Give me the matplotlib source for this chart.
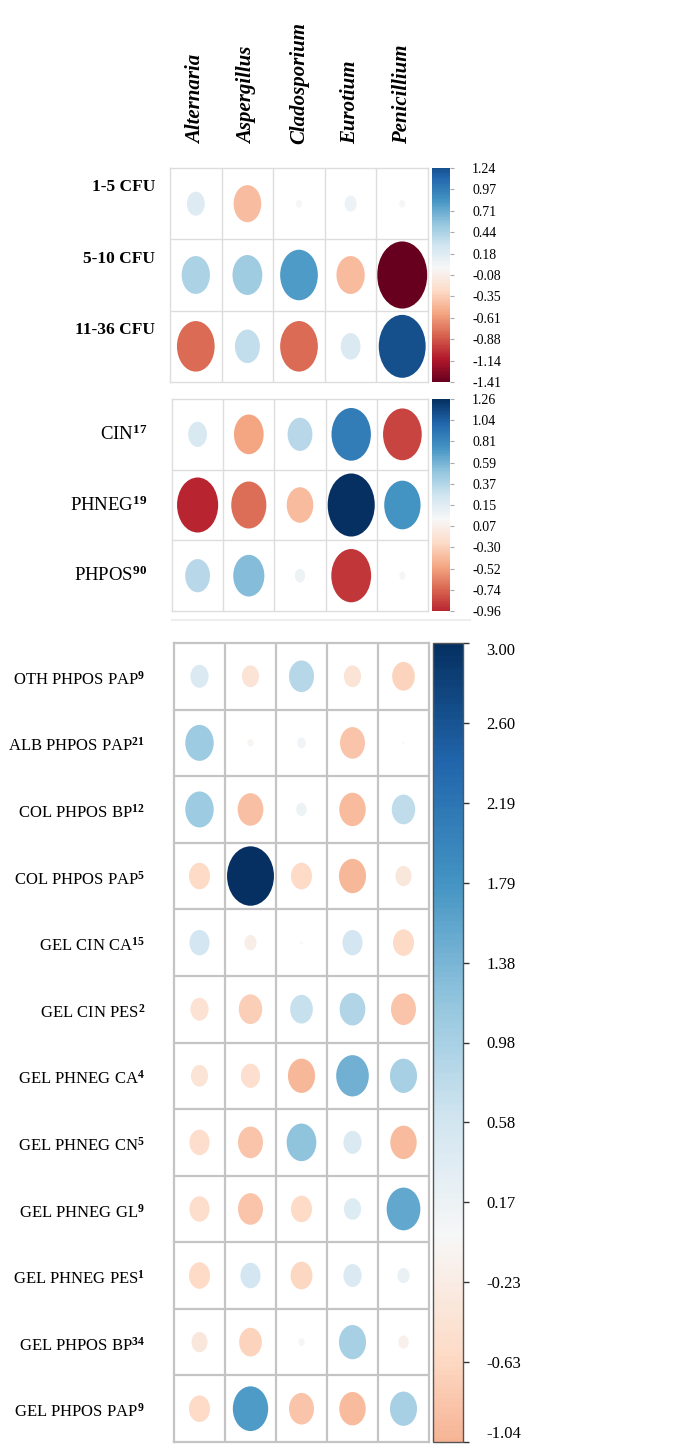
import numpy as np
import matplotlib.pyplot as plt
from matplotlib.patches import Ellipse
from matplotlib.colors import Normalize
from matplotlib.cm import ScalarMappable
from matplotlib.lines import Line2D
import matplotlib.transforms as mtrans

plt.rcParams['font.family'] = ['Liberation Serif', 'DejaVu Serif']
plt.rcParams['mathtext.fontset'] = 'custom'
plt.rcParams['mathtext.rm'] = 'Liberation Serif'
plt.rcParams['mathtext.bf'] = 'Liberation Serif:bold'
plt.rcParams['mathtext.it'] = 'Liberation Serif:italic'

genera = ['Alternaria', 'Aspergillus', 'Cladosporium', 'Eurotium', 'Penicillium']

# panel 1: colony counts
cfu_rows = ['1-5 CFU', '5-10 CFU', '11-36 CFU']
cfu_vals = [[0.18, -0.43, 0.02, 0.08, 0.02],
            [0.45, 0.50, 0.80, -0.45, -1.41],
            [-0.80, 0.35, -0.80, 0.22, 1.24]]
cfu_ticks = ['1.24', '0.97', '0.71', '0.44', '0.18', '-0.08',
             '-0.35', '-0.61', '-0.88', '-1.14', '-1.41']

# panel 2: pH / cinnamic
ph_rows = [r'CIN$^{\mathbf{17}}$', r'PHNEG$^{\mathbf{19}}$', r'PHPOS$^{\mathbf{90}}$']
ph_vals = [[0.20, -0.50, 0.35, 0.88, -0.85],
           [-0.96, -0.70, -0.40, 1.26, 0.75],
           [0.35, 0.55, 0.06, -0.90, 0.02]]
ph_ticks = ['1.26', '1.04', '0.81', '0.59', '0.37', '0.15',
            '0.07', '-0.30', '-0.52', '-0.74', '-0.96']

# panel 3: binder / treatment groups
grp_rows = [r'OTH PHPOS PAP$^{\mathbf{9}}$', r'ALB PHPOS PAP$^{\mathbf{21}}$',
            r'COL PHPOS BP$^{\mathbf{12}}$', r'COL PHPOS PAP$^{\mathbf{5}}$',
            r'GEL CIN CA$^{\mathbf{15}}$', r'GEL CIN PES$^{\mathbf{2}}$',
            r'GEL PHNEG CA$^{\mathbf{4}}$', r'GEL PHNEG CN$^{\mathbf{5}}$',
            r'GEL PHNEG GL$^{\mathbf{9}}$', r'GEL PHNEG PES$^{\mathbf{1}}$',
            r'GEL PHPOS BP$^{\mathbf{34}}$', r'GEL PHPOS PAP$^{\mathbf{9}}$']
grp_vals = [[0.45, -0.40, 0.85, -0.40, -0.70],
            [1.10, -0.05, 0.10, -0.85, 0.005],
            [1.10, -0.90, 0.15, -0.95, 0.75],
            [-0.60, 3.00, -0.60, -1.00, -0.35],
            [0.55, -0.20, 0.01, 0.55, -0.60],
            [-0.45, -0.75, 0.70, 0.90, -0.85],
            [-0.40, -0.50, -1.00, 1.45, 1.00],
            [-0.55, -0.85, 1.20, 0.45, -0.95],
            [-0.55, -0.85, -0.60, 0.40, 1.55],
            [-0.60, 0.55, -0.65, 0.45, 0.20],
            [-0.35, -0.70, 0.05, 1.00, -0.15],
            [-0.60, 1.70, -0.85, -0.95, 1.00]]
grp_ticks = ['3.00', '2.60', '2.19', '1.79', '1.38', '0.98',
             '0.58', '0.17', '-0.23', '-0.63', '-1.04']

W, H = 695, 1448
fig = plt.figure(figsize=(W / 100, H / 100), dpi=100)


def rect(x0, y0, x1, y1):
    return [x0 / W, 1 - y1 / H, (x1 - x0) / W, (y1 - y0) / H]


def panel(box, cbox, vals, rows, vmax, ticks, lab_off, lab_fs, lab_w, lab_dy,
          grid_c, grid_lw, tick_fs, size=0.92, heavy=False):
    vals = np.array(vals)
    nr, nc = vals.shape
    norm = Normalize(-vmax, vmax)
    cmap = plt.get_cmap('RdBu')
    ax = fig.add_axes(rect(*box))
    for i in range(nr):
        for j in range(nc):
            v = vals[i, j]
            d = size * np.sqrt(abs(v) / vmax)
            ax.add_patch(Ellipse((j + 0.5, i + 0.5), d, d * 0.97, color=cmap(norm(v)), lw=0))
    ax.vlines(np.arange(1, nc), 0, nr, color=grid_c, lw=grid_lw)
    ax.hlines(np.arange(1, nr), 0, nc, color=grid_c, lw=grid_lw)
    ax.set_xlim(0, nc)
    ax.set_ylim(nr, 0)
    ax.set_xticks([])
    ax.set_yticks([])
    for s in ax.spines.values():
        s.set_color(grid_c)
        s.set_linewidth(grid_lw)
    tr = mtrans.blended_transform_factory(ax.transAxes, ax.transData)
    for i, r in enumerate(rows):
        ax.text(-lab_off, i + 0.5 + lab_dy, r, transform=tr, ha='right', va='center',
                fontsize=lab_fs, fontweight=lab_w)

    lo, hi = float(ticks[-1]), float(ticks[0])
    cax = fig.add_axes(rect(*cbox))
    cb = fig.colorbar(ScalarMappable(norm=norm, cmap=cmap), cax=cax,
                      boundaries=np.linspace(lo, hi, 300))
    cb.set_ticks(np.linspace(lo, hi, len(ticks)))
    cb.set_ticklabels(ticks[::-1])
    if heavy:
        cb.outline.set_edgecolor('#555555')
        cb.outline.set_linewidth(1.0)
        cax.tick_params(length=4, width=1, color='#333333', pad=13, labelsize=tick_fs)
        labs = cax.get_yticklabels()
        labs[0].set_va('bottom')
        labs[-1].set_va('top')
    else:
        cb.outline.set_visible(False)
        cax.tick_params(length=3, width=0.8, color='#aaaaaa', pad=13, labelsize=tick_fs)
    return ax


ax1 = panel((170, 168, 428, 382), (432, 168, 450, 382), cfu_vals, cfu_rows, 1.41,
            cfu_ticks, 0.058, 12.5, 'bold', -0.23, '#dddddd', 1.0, 10, size=0.97)
ax1.xaxis.tick_top()
ax1.set_xticks(np.arange(len(genera)) + 0.5)
ax1.set_xticklabels(genera, rotation=90, fontsize=15, fontstyle='italic',
                    fontweight='bold')
ax1.tick_params(axis='x', length=0, pad=17)

panel((172, 399, 428, 611), (432, 399, 450, 611), ph_vals, ph_rows, 1.26,
      ph_ticks, 0.098, 13.5, 'normal', 0.0, '#dddddd', 1.0, 10)

fig.add_artist(Line2D([172 / W, 470 / W], [1 - 620 / H, 1 - 620 / H],
                      color='#eeeeee', lw=1.5))

panel((174, 643, 429, 1442), (433, 643, 463, 1442), grp_vals, grp_rows, 3.0,
      grp_ticks, 0.114, 12, 'normal', 0.05, '#c4c4c4', 1.6, 12, heavy=True)

fig.savefig('out.png', dpi=100, facecolor='white')
